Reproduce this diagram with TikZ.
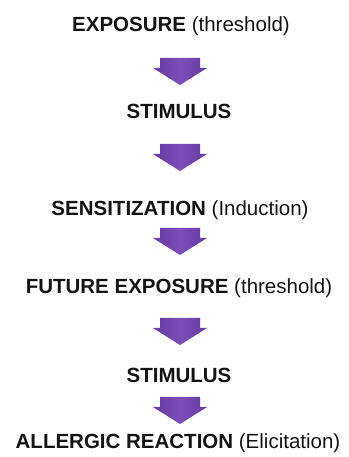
\documentclass[tikz,border=0pt]{standalone}
\usepackage{fontspec}
\setmainfont{Liberation Sans}
\definecolor{arrowdark}{RGB}{100,58,160}
\definecolor{arrowlight}{RGB}{125,78,185}
\begin{document}
\begin{tikzpicture}[x=1pt,y=1pt,
  label/.style={anchor=base,inner sep=0pt,font=\fontsize{20.5}{24}\selectfont,text=black!92},
  downarrow/.style={draw=none,left color=arrowdark,right color=arrowdark,middle color=arrowlight}]
\useasboundingbox (0,0) rectangle (348,457);
\fill[white] (0,0) rectangle (348,457);
\newcommand{\flowarrow}[1]{\path[downarrow,shift={(#1)}] (-20,0) -- (20,0) -- (20,-10) -- (27,-10) -- (0,-27) -- (-27,-10) -- (-20,-10) -- cycle;}
\node[label] (t1) at (181,425) {\textbf{EXPOSURE} (threshold)};
\node[label] (t2) at (179,338) {\textbf{STIMULUS}};
\node[label] (t3) at (180,241) {\textbf{SENSITIZATION} (Induction)};
\node[label] (t4) at (179,163) {\textbf{FUTURE EXPOSURE} (threshold)};
\node[label] (t5) at (179,74) {\textbf{STIMULUS}};
\node[label] (t6) at (178,9) {\textbf{ALLERGIC REACTION} (Elicitation)};
\coordinate (a1) at (180,399);
\coordinate (a2) at (180,313);
\coordinate (a3) at (180,229);
\coordinate (a4) at (180,139);
\coordinate (a5) at (180,60);
\flowarrow{a1}
\flowarrow{a2}
\flowarrow{a3}
\flowarrow{a4}
\flowarrow{a5}
\end{tikzpicture}
\end{document}
